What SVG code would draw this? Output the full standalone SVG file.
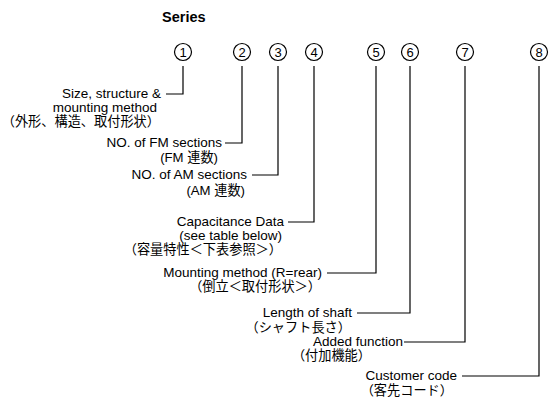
<svg xmlns="http://www.w3.org/2000/svg" width="549" height="397" viewBox="0 0 549 397">
<style>
.t{font-family:"Liberation Sans","Noto Sans CJK JP",sans-serif;font-size:13.5px;fill:#000;text-anchor:end}
.j{font-family:"Liberation Sans","Noto Sans CJK JP",sans-serif;font-size:13.2px;fill:#000;text-anchor:end}
.n{font-family:"Liberation Sans",sans-serif;font-size:13px;fill:#000;text-anchor:middle}
.c{fill:#fff;stroke:#000;stroke-width:1.2}
.w{fill:none;stroke:#000;stroke-width:1.2}
</style>
<rect width="549" height="397" fill="#fff"/>
<text x="162" y="22" font-family="Liberation Sans, sans-serif" font-size="14.5" font-weight="bold">Series</text>
<g id="n1"><circle class="c" cx="183" cy="52" r="8.5"/><text class="n" x="183" y="56.7">1</text></g>
<g id="n2"><circle class="c" cx="242" cy="52" r="8.5"/><text class="n" x="242" y="56.7">2</text></g>
<g id="n3"><circle class="c" cx="278" cy="52" r="8.5"/><text class="n" x="278" y="56.7">3</text></g>
<g id="n4"><circle class="c" cx="314" cy="52" r="8.5"/><text class="n" x="314" y="56.7">4</text></g>
<g id="n5"><circle class="c" cx="376" cy="52" r="8.5"/><text class="n" x="376" y="56.7">5</text></g>
<g id="n6"><circle class="c" cx="410" cy="52" r="8.5"/><text class="n" x="410" y="56.7">6</text></g>
<g id="n7"><circle class="c" cx="465" cy="52" r="8.5"/><text class="n" x="465" y="56.7">7</text></g>
<g id="n8"><circle class="c" cx="539" cy="52" r="8.5"/><text class="n" x="539" y="56.7">8</text></g>
<g id="connectors">
<path class="w" d="M183,66 V94 H166"/>
<path class="w" d="M242,66 V143 H225"/>
<path class="w" d="M278,66 V175 H252"/>
<path class="w" d="M314,66 V222 H288"/>
<path class="w" d="M376,66 V273 H327"/>
<path class="w" d="M410,66 V313 H357"/>
<path class="w" d="M465,66 V342 H404"/>
<path class="w" d="M539,66 V376 H462"/>
</g>
<g id="l1"><text class="t" x="161" y="98">Size, structure &amp;</text><text class="t" x="157" y="112">mounting method</text><text class="j" x="160" y="126">（外形、構造、取付形状）</text></g>
<g id="l2"><text class="t" x="222" y="147">NO. of FM sections</text><text class="j" x="218" y="162">(FM 連数)</text></g>
<g id="l3"><text class="t" x="247" y="179">NO. of AM sections</text><text class="j" x="245" y="195">(AM 連数)</text></g>
<g id="l4"><text class="t" x="284" y="226">Capacitance Data</text><text class="t" x="282" y="240">(see table below)</text><text class="j" x="282" y="254">（容量特性＜下表参照＞）</text></g>
<g id="l5"><text class="t" x="322" y="277">Mounting method (R=rear)</text><text class="j" x="321" y="291">（倒立＜取付形状＞）</text></g>
<g id="l6"><text class="t" x="352" y="317">Length of shaft</text><text class="j" x="351" y="332">（シャフト長さ）</text></g>
<g id="l7"><text class="t" x="403" y="346">Added function</text><text class="j" x="371" y="360">（付加機能）</text></g>
<g id="l8"><text class="t" x="457" y="380">Customer code</text><text class="j" x="453" y="395">（客先コード）</text></g>
</svg>
